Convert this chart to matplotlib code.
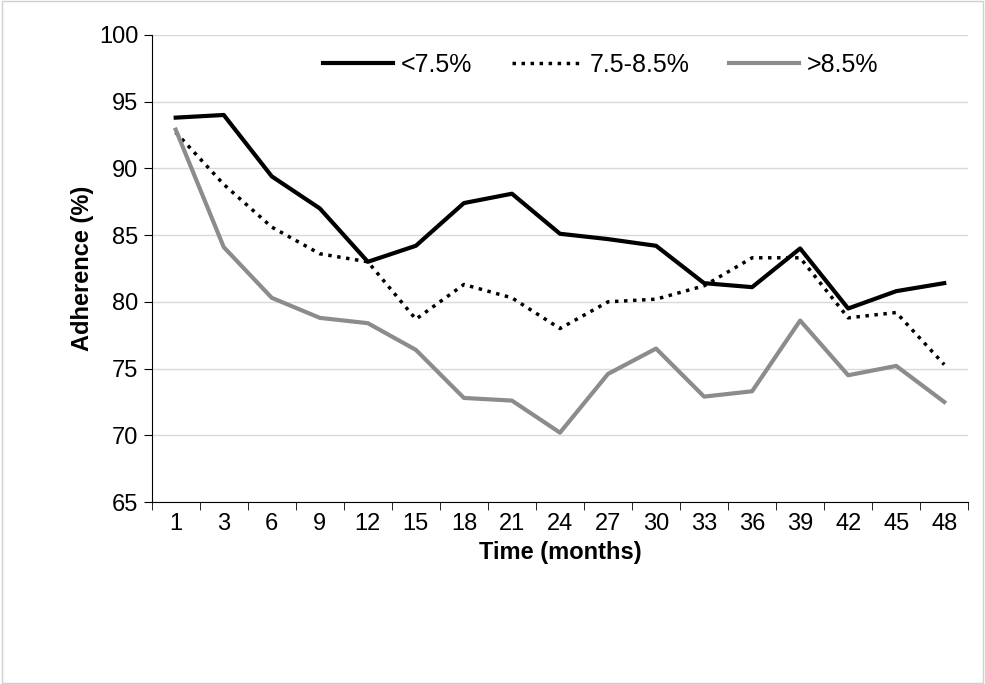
import matplotlib
matplotlib.use("Agg")
import matplotlib.pyplot as plt
import numpy as np

months = ['1', '3', '6', '9', '12', '15', '18', '21', '24', '27', '30', '33', '36', '39', '42', '45', '48']
low = [93.8, 94.0, 89.4, 87.0, 83.0, 84.2, 87.4, 88.1, 85.1, 84.7, 84.2, 81.4, 81.1, 84.0, 79.5, 80.8, 81.4]
mid = [92.7, 88.8, 85.6, 83.6, 83.0, 78.7, 81.3, 80.3, 78.0, 80.0, 80.2, 81.2, 83.3, 83.3, 78.8, 79.2, 75.3]
high = [92.9, 84.1, 80.3, 78.8, 78.4, 76.4, 72.8, 72.6, 70.2, 74.6, 76.5, 72.9, 73.3, 78.6, 74.5, 75.2, 72.5]

plt.rcParams['font.family'] = ['Liberation Sans', 'DejaVu Sans']
fig = plt.figure(figsize=(9.85, 6.84), dpi=100)
fig.patches.append(plt.Rectangle((0.002, 0.002), 0.996, 0.996, transform=fig.transFigure,
                                 fill=False, edgecolor='#d0d0d0', linewidth=1))
ax = fig.add_axes([0.154, 0.266, 0.829, 0.683])

x = np.arange(len(months))
ax.plot(x, low, color='black', linewidth=3, label='<7.5%')
ax.plot(x, mid, color='black', linewidth=2.5, linestyle=(0, (1, 1.6)), label='7.5-8.5%')
ax.plot(x, high, color='#8c8c8c', linewidth=3, label='>8.5%')

ax.set_xlim(-0.5, len(months) - 0.5)
ax.set_ylim(65, 100)
ax.set_yticks(range(65, 101, 5))
ax.set_xticks(x)
ax.set_xticklabels(months)
ax.set_xticks(np.arange(-0.5, len(months), 1), minor=True)
ax.tick_params(axis='x', which='major', length=0, labelsize=17, pad=8)
ax.tick_params(axis='x', which='minor', length=6)
ax.tick_params(axis='y', labelsize=17, length=6)
ax.grid(axis='y', color='#d9d9d9', linewidth=1)
ax.set_axisbelow(True)
for s in ['top', 'right']:
    ax.spines[s].set_visible(False)
ax.set_xlabel('Time (months)', fontsize=17, fontweight='bold')
ax.set_ylabel('Adherence (%)', fontsize=17, fontweight='bold')
ax.legend(loc='upper center', ncol=3, frameon=False, fontsize=18,
          bbox_to_anchor=(0.55, 1.01), handlelength=2.8, handletextpad=0.3,
          columnspacing=1.6)

fig.savefig('out.png', dpi=100)
